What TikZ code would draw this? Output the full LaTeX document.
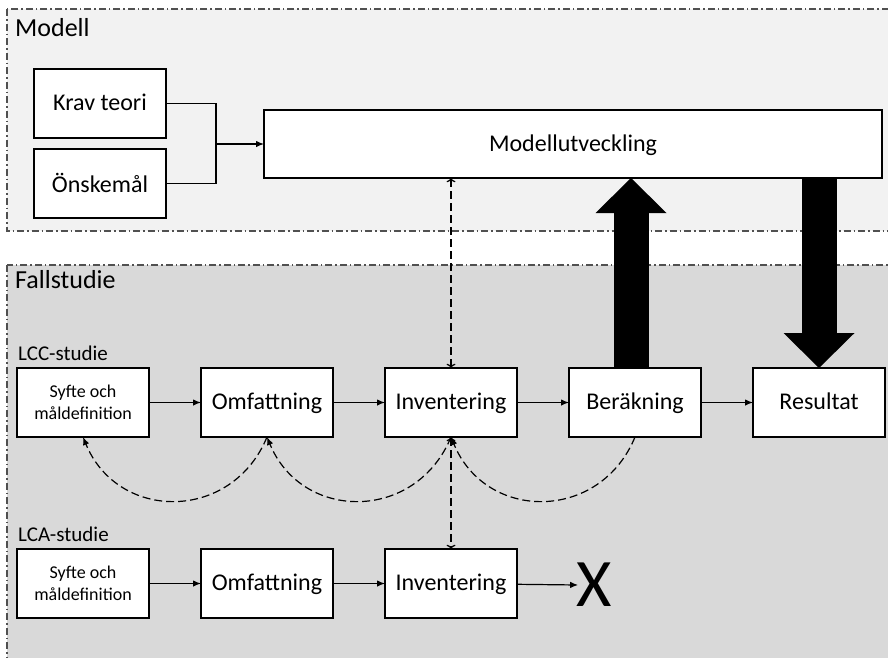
\documentclass[tikz,border=0pt]{standalone}
\usepackage{fontspec}
\setmainfont{Carlito}
\usepackage{tikz}
\usetikzlibrary{arrows.meta,positioning,calc}
\definecolor{modellgray}{RGB}{242,242,242}
\definecolor{fallgray}{RGB}{217,217,217}
\definecolor{framegray}{RGB}{80,80,80}
\tikzstyle{region} = [draw=framegray, line width=1.2pt, dash pattern=on 7pt off 3pt on 1.5pt off 3pt]
\tikzstyle{title} = [anchor=base west, inner sep=0pt, font=\fontsize{26}{30}\selectfont]
\tikzstyle{studie} = [anchor=base west, inner sep=0pt, font=\fontsize{21}{25}\selectfont]
\tikzstyle{box} = [rectangle, minimum width=132pt, minimum height=69pt, inner sep=0pt, outer sep=0pt, text centered, text depth=0.22em, draw=black, fill=white, line width=1.2pt, font=\fontsize{24}{28}\selectfont]
\tikzstyle{smallbox} = [box, align=center, text depth=, font=\fontsize{18}{22}\selectfont]
\tikzstyle{line} = [line width=1.2pt]
\tikzstyle{arrow} = [line width=1.2pt, -{Latex[length=8pt,width=6.5pt]}]
\tikzstyle{dasharrow} = [arrow, dash pattern=on 8pt off 4pt]
\tikzstyle{bigarrow} = [line width=35pt, -{Triangle[length=35pt,width=71pt,line width=0pt]}]

\begin{document}
\begin{tikzpicture}[x=1pt,y=-1pt]
\useasboundingbox (0,0) rectangle (888,657);
\clip (0,0) rectangle (888,657);
% areas
\draw[region, fill=modellgray] (7,9) rectangle (900,231);
\draw[region, fill=fallgray] (7,265) rectangle (900,680);
\node[title] (modell) at (15,36) {Modell};
\node[title] (fall) at (15,288) {Fallstudie};

% modell
\node[box] (krav) at (100,103.5) {Krav teori};
\node[box] (onsk) at (100,183.5) {Önskemål};
\node[box, minimum width=618pt, minimum height=68pt] (mod) at (573,144) {Modellutveckling};
\coordinate (jn) at (216,144);
\draw[line] (krav.east) -| (jn);
\draw[line] (onsk.east) -| (jn);
\draw[arrow] (jn) -- (mod.west);

% LCC-studie
\node[smallbox] (sylcc) at (83,402.5) {Syfte och\\måldefinition};
\node[box, right=52pt of sylcc] (omlcc) {Omfattning};
\node[box, right=52pt of omlcc] (invlcc) {Inventering};
\node[box, right=52pt of invlcc] (ber) {Beräkning};
\node[box, right=52pt of ber] (res) {Resultat};
\node[studie] (lcc) at ([xshift=1pt,yshift=8pt]sylcc.north west) {LCC-studie};
\draw[arrow] (sylcc) -- (omlcc);
\draw[arrow] (omlcc) -- (invlcc);
\draw[arrow] (invlcc) -- (ber);
\draw[arrow] (ber) -- (res);

% LCA-studie
\node[smallbox] (sylca) at (83,583.5) {Syfte och\\måldefinition};
\node[box, right=52pt of sylca] (omlca) {Omfattning};
\node[box, right=52pt of omlca] (invlca) {Inventering};
\node[inner sep=0pt, font=\fontsize{68}{68}\selectfont] (stop) at (594,585) {X};
\node[studie] (lca) at ([xshift=1pt,yshift=8pt]sylca.north west) {LCA-studie};
\draw[arrow] (sylca) -- (omlca);
\draw[arrow] (omlca) -- (invlca);
\draw[arrow] (invlca) -- ([xshift=2pt]stop.west);

% feedback
\draw[dasharrow] (omlcc.south) .. controls +(-35,85) and +(35,85) .. (sylcc.south);
\draw[dasharrow] (invlcc.south) .. controls +(-35,85) and +(35,85) .. (omlcc.south);
\draw[dasharrow] (ber.south) .. controls +(-35,85) and +(35,85) .. (invlcc.south);
\draw[dasharrow, <->] (invlcc.south) -- (invlca.north);
\draw[dasharrow, <->] (invlcc.north) -- (invlcc.north |- mod.south);

% big arrows
\coordinate (upfoot) at ([xshift=-4pt]ber.north);
\coordinate (uptip) at (upfoot |- mod.south);
\coordinate (downtop) at (res.north |- mod.south);
\draw[bigarrow] (upfoot) -- (uptip);
\draw[bigarrow] (downtop) -- (res.north);
\end{tikzpicture}
\end{document}
